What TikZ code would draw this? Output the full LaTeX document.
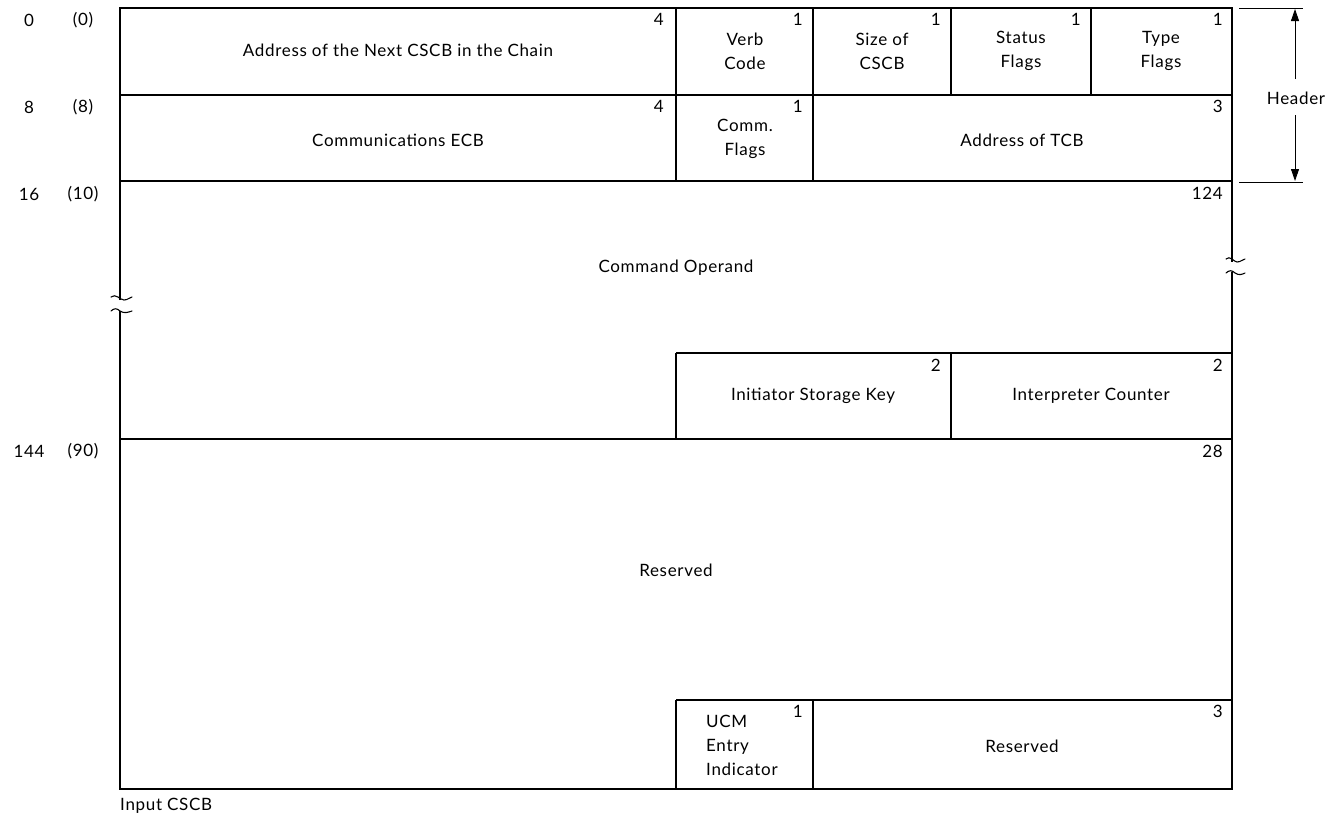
\documentclass[tikz,border=0pt]{standalone}
\usepackage{fontspec}
\setmainfont{Lato}[LetterSpace=4]
\usetikzlibrary{arrows.meta}
\begin{document}
\begin{tikzpicture}[x=1pt,y=-1pt,
  box/.style={draw,line width=1.1pt},
  lbl/.style={font=\fontsize{17}{24}\selectfont,align=center,inner sep=0pt},
  sz/.style={font=\fontsize{17}{24}\selectfont,anchor=north east,inner sep=0pt},
  off/.style={font=\fontsize{17}{24}\selectfont,anchor=center,inner sep=0pt},
  brk/.style={line width=1.1pt,line cap=round},
  dim/.style={line width=0.9pt},
  dimarrow/.style={dim,-{Triangle[length=12pt,width=8pt]}}]
\useasboundingbox (0,0) rectangle (1333,817);

% outer frame pieces (left and right sides are broken)
\coordinate (TL) at (120,8);
\coordinate (TR) at (1232,8);
\coordinate (BL) at (120,789);
\coordinate (BR) at (1232,789);
\draw[box] (120,300) -- (TL) -- (TR) -- (1232,262);
\draw[box] (1232,272) -- (BR) -- (BL) -- (120,311);
% break marks
\draw[brk] (111,297) .. controls (116,293) and (120,300) .. (124,300) .. controls (128,300) and (130,297) .. (132,297);
\draw[brk] (111,311) .. controls (114,308) and (117,308) .. (120,311) .. controls (124,314) and (129,312) .. (132,311);
\draw[brk] (1226,259) .. controls (1230,255) and (1234,262) .. (1237,262) .. controls (1241,262) and (1243,259) .. (1245,259);
\draw[brk] (1226,273) .. controls (1229,270) and (1232,270) .. (1235,273) .. controls (1239,276) and (1243,274) .. (1245,273);

% horizontal rules
\draw[box] (120,95) -- (1232,95);
\draw[box] (120,181) -- (1232,181);
\draw[box] (676,353) -- (1232,353);
\draw[box] (120,439) -- (1232,439);
\draw[box] (676,700) -- (1232,700);
% vertical rules
\draw[box] (676,8) -- (676,181);
\draw[box] (813,8) -- (813,181);
\draw[box] (951,8) -- (951,95);
\draw[box] (1091,8) -- (1091,95);
\draw[box] (676,353) -- (676,439);
\draw[box] (951,353) -- (951,439);
\draw[box] (676,700) -- (676,789);
\draw[box] (813,700) -- (813,789);

% row 0
\node[lbl] (a1) at (398,50) {Address of the Next CSCB in the Chain};
\node[lbl] (a2) at (745,51) {Verb\\Code};
\node[lbl] (a3) at (882,51) {Size of\\CSCB};
\node[lbl] (a4) at (1021,51) {Status\\Flags};
\node[lbl] (a5) at (1161,51) {Type\\Flags};
\node[sz] (s1) at (664,13) {4};
\node[sz] (s2) at (803,13) {1};
\node[sz] (s3) at (941,13) {1};
\node[sz] (s4) at (1081,13) {1};
\node[sz] (s5) at (1223,13) {1};
% row 8
\node[lbl] (b1) at (398,140) {Communications ECB};
\node[lbl] (b2) at (745,139) {Comm.\\Flags};
\node[lbl] (b3) at (1022,140) {Address of TCB};
\node[sz] (t1) at (664,100) {4};
\node[sz] (t2) at (803,100) {1};
\node[sz] (t3) at (1223,100) {3};
% command operand
\node[lbl] (c1) at (676,268) {Command Operand};
\node[sz] (u1) at (1223,187) {124};
\node[lbl] (c2) at (813,396) {Initiator Storage Key};
\node[lbl] (c3) at (1091,396) {Interpreter Counter};
\node[sz] (u2) at (941,359) {2};
\node[sz] (u3) at (1223,359) {2};
% reserved
\node[lbl] (d1) at (676,570) {Reserved};
\node[sz] (v1) at (1223,445) {28};
\node[lbl,align=left,anchor=west] (d2) at (706,745) {UCM\\Entry\\Indicator};
\node[lbl] (d3) at (1022,746) {Reserved};
\node[sz] (v2) at (803,705) {1};
\node[sz] (v3) at (1223,705) {3};

% offsets
\node[off] (o1) at (29,20) {0};
\node[off] (o2) at (83,20) {(0)};
\node[off] (o3) at (29,107) {8};
\node[off] (o4) at (83,107) {(8)};
\node[off] (o5) at (29,194) {16};
\node[off] (o6) at (83,194) {(10)};
\node[off] (o7) at (29,451) {144};
\node[off] (o8) at (83,451) {(90)};

% header dimension
\coordinate (h1) at (1239,8);
\coordinate (h2) at (1303,8);
\coordinate (h3) at (1239,182);
\coordinate (h4) at (1303,182);
\coordinate (ha) at (1295,79);
\coordinate (hb) at (1295,115);
\coordinate (hc) at (1295,9);
\coordinate (he) at (1295,181);
\draw[dim] (h1) -- (h2);
\draw[dim] (h3) -- (h4);
\node[lbl,anchor=center] (hd) at (1296,98) {Header};
\draw[dimarrow] (ha) -- (hc);
\draw[dimarrow] (hb) -- (he);

% caption
\node[lbl,anchor=west] (cap) at (120,806) {Input CSCB};
\end{tikzpicture}
\end{document}
